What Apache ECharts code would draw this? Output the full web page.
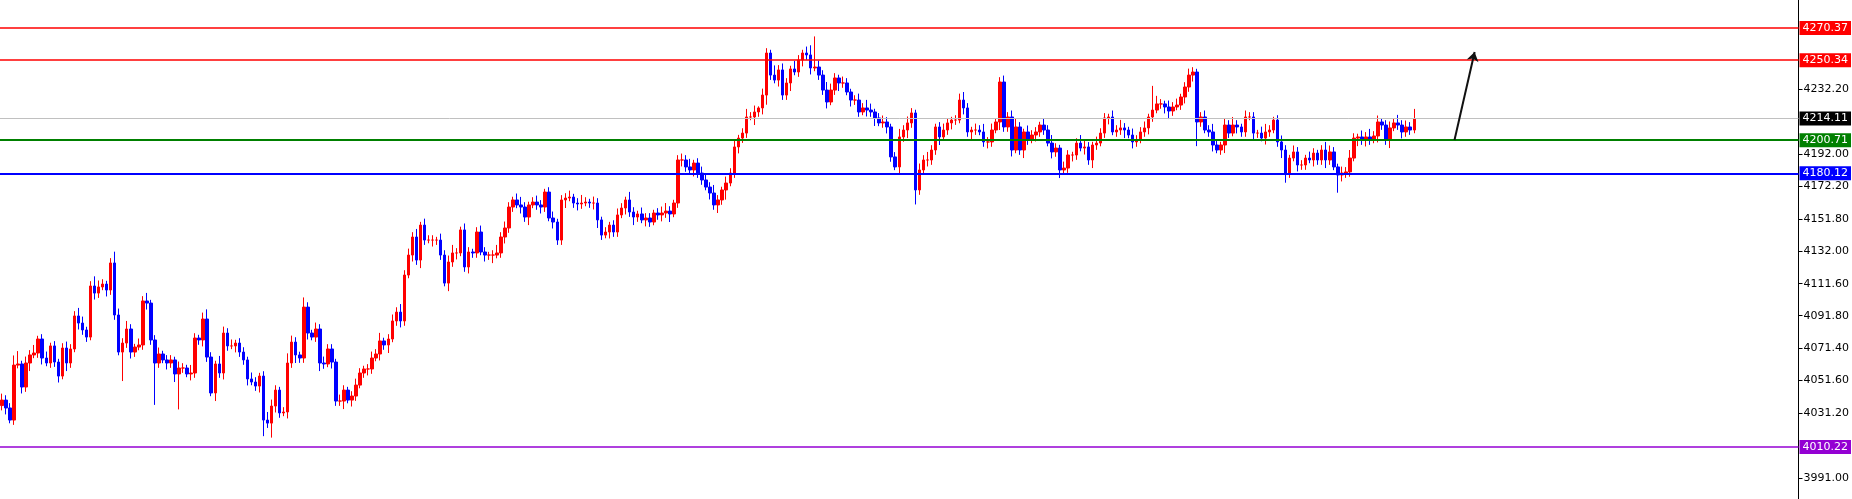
<!DOCTYPE html>
<html>
<head>
<meta charset="utf-8">
<title>Candles</title>
<script src="https://cdn.jsdelivr.net/npm/echarts@6.0.0/dist/echarts.min.js"></script>
<style>
  html, body { margin: 0; padding: 0; background: #fff; }
  #main { width: 1852px; height: 499px; }
</style>
</head>
<body>
<div id="main"></div>
<script>
// closes, left to right
const closes = [
  4039.4,4034.5,4027.0,4061.1,4061.8,4047.5,4062.4,4067.4,4068.6,4077.3,4065.5,4062.4,4073.0,4063.0,4054.3,4071.7,4062.4,4071.1,4091.6,4087.2,
  4082.9,4078.5,4110.2,4105.8,4109.6,4111.4,4107.7,4124.5,4092.2,4069.2,4074.8,4083.5,4069.2,4072.3,4073.6,4100.9,4099.6,4076.7,4062.4,4068.0,
  4064.3,4062.4,4064.3,4055.6,4059.3,4059.3,4055.6,4056.2,4077.9,4076.7,4089.7,4066.1,4043.8,4061.8,4056.2,4081.0,4073.0,4073.0,4074.8,4069.2,
  4064.3,4052.5,4050.6,4048.1,4054.3,4027.0,4025.1,4035.7,4045.6,4031.4,4032.0,4062.4,4075.4,4067.4,4065.5,4097.1,4081.0,4078.5,4083.5,4062.4,
  4061.8,4071.1,4063.0,4038.8,4038.8,4045.6,4039.4,4041.9,4048.7,4056.2,4058.7,4058.7,4065.5,4068.0,4076.1,4073.6,4077.3,4088.5,4094.0,4088.5,
  4117.0,4129.4,4140.6,4126.3,4148.0,4138.7,4138.7,4138.7,4138.7,4129.4,4112.0,4125.1,4130.7,4130.7,4145.0,4122.0,4131.3,4130.7,4143.7,4131.3,
  4129.4,4129.4,4129.4,4130.7,4140.6,4146.2,4159.2,4163.6,4160.5,4159.2,4153.0,4160.5,4162.3,4160.5,4159.2,4168.5,4152.4,4149.9,4138.7,4163.6,
  4164.8,4165.4,4161.7,4161.1,4161.7,4162.3,4161.7,4161.7,4151.2,4141.8,4143.7,4148.0,4143.7,4154.3,4158.6,4163.6,4156.1,4153.0,4154.9,4151.2,
  4152.4,4149.9,4155.5,4154.3,4155.5,4156.7,4154.9,4161.7,4188.4,4188.4,4184.1,4182.2,4186.5,4180.3,4176.0,4171.6,4167.9,4160.5,4163.6,4169.8,
  4174.1,4180.3,4196.5,
  4202.0,4205.1,4215.1,4215.1,4218.2,4220.7,4228.7,4254.8,4241.1,4238.0,4244.3,4228.7,4236.2,4244.9,4243.0,4250.5,4254.8,4253.6,4245.5,4246.1,
  4241.1,4231.8,4224.4,4231.8,4239.3,4236.2,4236.2,4230.6,4225.6,4225.6,4218.2,4220.7,4219.4,4218.2,4214.5,4211.4,4212.0,4208.9,4190.3,4184.1,
  4202.7,4207.0,4211.4,4217.6,4169.8,4182.2,4188.4,4188.4,4194.6,4208.9,4202.7,4207.0,4211.4,4213.2,4213.2,4225.6,4220.7,4205.8,4207.0,4207.0,
  4205.8,4199.6,4199.6,4207.0,4212.0,4236.8,4208.9,4215.1,4194.6,4208.9,4194.6,4205.8,4200.8,4203.9,4205.8,4210.1,4207.0,4198.9,4193.4,4195.8,
  4182.2,4183.4,4191.5,4191.5,4198.9,4195.8,4196.5,4188.4,4197.7,4198.9,4205.1,4214.5,4215.1,
  4205.8,4207.0,4208.3,4207.0,4203.9,4199.6,4200.8,4205.8,4208.3,4215.1,4219.4,4223.2,4223.2,4221.3,4218.8,4221.3,4222.5,4227.5,4233.7,4241.1,
  4243.0,4212.0,4215.1,4207.0,4205.8,4197.7,4194.6,4197.7,4210.1,4205.1,4210.1,4208.9,4205.8,4215.1,4215.1,4205.1,4205.1,4202.0,4205.8,4207.0,
  4213.2,4199.6,4194.6,4180.3,4189.6,4193.4,4185.3,4185.3,4189.6,4188.4,4192.7,4188.4,4194.6,4188.4,4193.4,4184.1,4179.1,4180.3,4181.0,4189.6,
  4202.0,4202.7,4200.8,4202.7,4200.8,4203.3,4212.0,4210.1,4200.8,4208.3,4211.4,4210.1,4205.8,4208.9,4207.0,4214.1
];
const firstOpen = 4036.0;

// wick lengths above / below the body, in points
const wickUp = [
  4,3,3,6,8,2,4,3,5,2,3,4,2,3,2,3,4,3,3,5,4,2,3,6,4,
  3,2,3,7,4,3,5,3,2,4,3,5,2,3,4,2,3,3,2,4,3,2,5,3,2,
  4,6,3,2,5,4,3,4,2,3,3,2,4,3,2,3,5,4,3,2,3,6,4,3,2,
  6,3,2,4,3,4,3,3,2,4,3,2,3,4,3,2,3,4,3,5,2,3,4,3,5,
  3,4,3,5,2,4,3,3,2,4,3,4,5,3,2,4,3,2,3,4,3,2,3,5,3,
  4,3,2,4,5,3,2,3,4,3,2,3,4,2,3,3,4,2,3,5,3,2,4,3,2,
  3,2,3,4,3,2,5,3,2,4,3,3,2,3,4,5,3,2,3,4,3,5,2,3,4,
  4,3,5,3,2,4,3,4,2,3,5,3,4,1,4,3,2,6,3,4,3,2,5,3,2,
  4,6,19,4,3,5,4,3,2,4,3,2,3,4,3,5,4,2,3,4,3,2,3,5,3,
  4,3,2,4,3,5,3,2,3,4,3,2,3,4,5,3,2,4,3,5,3,4,2,3,4,
  3,4,5,3,2,4,3,3,2,4,3,5,3,2,4,3,2,3,5,4,3,2,4,3,3,
  2,4,3,5,3,2,4,3,3,4,2,15,5,3,2,4,3,4,2,3,4,3,2,3,4,
  3,5,3,2,4,3,5,3,2,4,3,3,2,4,5,3,2,3,4,3,2,4,3,3,2,
  4,3,2,3,5,4,3,2,4,3,5,3,2,4,3,5,3,4,2,3,4,3,5,3,4,
  3,6
];
const wickDn = [
  3,4,2,3,2,4,3,5,2,3,4,2,3,3,4,2,5,3,2,4,3,3,2,4,3,
  2,4,3,3,2,18,3,4,3,2,3,4,3,26,3,2,4,3,5,22,3,2,4,3,3,
  4,3,2,5,3,4,3,2,4,3,3,4,2,3,4,10,3,9,4,3,2,4,3,5,3,
  3,4,2,3,5,3,2,4,3,3,5,2,4,3,2,3,4,3,2,4,3,5,2,3,4,
  3,2,4,3,5,3,2,4,3,3,2,5,3,4,2,3,4,3,3,2,4,3,5,2,3,
  4,3,3,2,4,3,5,2,3,4,3,2,4,3,3,5,2,3,4,3,2,3,4,5,3,
  2,4,3,3,2,4,3,5,3,2,4,3,2,3,4,3,5,2,3,4,3,2,4,3,3,
  2,4,3,5,3,6,2,3,4,3,3,2,5,3,4,6,3,2,4,3,3,5,2,3,4,
  3,4,2,3,3,4,2,3,5,3,2,4,3,3,2,4,3,5,2,3,4,3,2,4,3,
  5,3,9,3,2,4,3,3,5,2,3,4,3,2,4,3,5,3,2,3,4,3,2,5,3,
  3,4,2,3,5,3,2,4,3,3,2,4,3,5,2,3,4,3,2,4,3,5,3,2,3,
  4,2,3,3,5,2,4,3,2,3,4,3,2,3,4,5,3,2,3,4,3,4,15,3,2,
  3,4,2,3,5,3,2,4,3,3,2,4,3,2,4,3,2,3,5,6,3,2,4,3,3,
  2,4,3,3,5,3,2,11,4,3,3,2,5,3,4,3,2,4,3,3,5,2,3,4,3,
  3,2
];

const levels = [
  { value: 4270.37, color: '#ff0000', width: 1.5 },
  { value: 4250.34, color: '#ff0000', width: 1.5 },
  { value: 4214.11, color: '#c0c0c0', width: 1, labelBg: '#000000' },
  { value: 4200.71, color: '#008000', width: 2 },
  { value: 4180.12, color: '#0000ff', width: 2 },
  { value: 4010.22, color: '#9400d3', width: 1.5 }
];
const tickValues = [4232.20, 4192.00, 4172.20, 4151.80, 4132.00, 4111.60, 4091.80, 4071.40, 4051.60, 4031.20, 3991.00];
const totalSlots = 447;
const arrowFrom = [361, 4200.8];
const arrowTo = [366, 4255.4];

const categories = [];
for (let i = 0; i < totalSlots; i++) categories.push(String(i));

const ohlc = closes.map((c, i) => {
  const o = i === 0 ? firstOpen : closes[i - 1];
  const hi = Math.max(o, c) + wickUp[i];
  const lo = Math.min(o, c) - wickDn[i];
  return [o, c, lo, hi];
});

const chart = echarts.init(document.getElementById('main'));
chart.setOption({
  animation: false,
  backgroundColor: '#ffffff',
  grid: { left: 0, right: 46, top: 0, bottom: 0 },
  xAxis: {
    type: 'category',
    data: categories,
    show: false,
    boundaryGap: true
  },
  yAxis: {
    type: 'value',
    position: 'right',
    min: 3978,
    max: 4287.7,
    scale: true,
    axisLine: { show: true, lineStyle: { color: '#000', width: 1 } },
    axisTick: { show: true, inside: false, length: 4, lineStyle: { color: '#000' }, customValues: tickValues },
    axisLabel: {
      customValues: tickValues,
      formatter: v => v.toFixed(2),
      color: '#000',
      fontSize: 11,
      fontFamily: 'DejaVu Sans',
      margin: 5
    },
    splitLine: { show: false }
  },
  series: [{
    type: 'candlestick',
    data: ohlc,
    barWidth: 3,
    itemStyle: {
      color: '#ff0000',
      color0: '#0000ff',
      borderColor: '#ff0000',
      borderColor0: '#0000ff',
      borderWidth: 1
    },
    markLine: {
      silent: true,
      symbol: ['none', 'none'],
      animation: false,
      data: levels.map(l => ({
        yAxis: l.value,
        lineStyle: { color: l.color, width: l.width, type: 'solid' },
        label: {
          show: true,
          position: 'end',
          distance: 1,
          formatter: l.value.toFixed(2),
          color: '#fff',
          backgroundColor: l.labelBg || l.color,
          padding: [2, 3, 1, 3],
          fontSize: 11,
          fontFamily: 'DejaVu Sans'
        }
      })).concat([[
        { coord: arrowFrom, symbol: 'none', lineStyle: { color: '#111', width: 2, type: 'solid' }, label: { show: false } },
        { coord: arrowTo, symbol: 'arrow', symbolSize: 9 }
      ]])
    }
  }]
});
</script>
</body>
</html>
